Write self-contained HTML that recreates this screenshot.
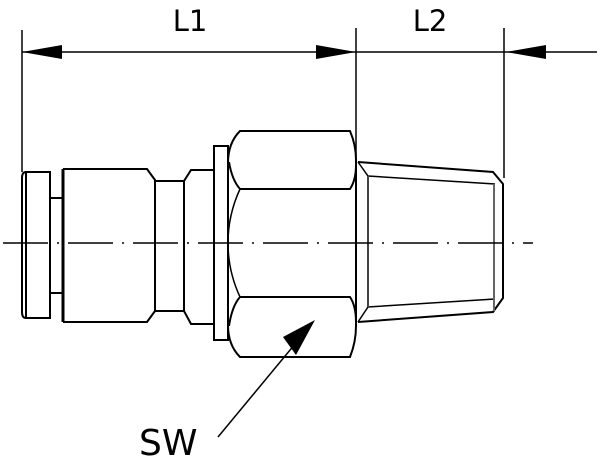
<!DOCTYPE html>
<html><head><style>html,body{margin:0;padding:0;background:#fff}svg{display:block}</style></head><body>
<svg width="600" height="459" viewBox="0 0 600 459" xmlns="http://www.w3.org/2000/svg">
<g fill="none" stroke="#000" stroke-width="2">
<line x1="22" y1="30" x2="22" y2="172" stroke-width="1.5"/>
<line x1="356" y1="28" x2="356" y2="162" stroke-width="1.5"/>
<line x1="504" y1="28" x2="504" y2="178" stroke-width="1.5"/>
<line x1="22" y1="52" x2="504" y2="52" stroke-width="1.5"/>
<line x1="504" y1="52" x2="597" y2="52" stroke-width="1.5"/>
<path d="M26,172 H50 V318 H26 Z"/>
<path d="M26,172 Q22,172 22,178 V312 Q22,318 26,318"/>
<path d="M50,198 H62 M50,293 H62"/>
<line x1="63" y1="169" x2="63" y2="322" stroke-width="3"/>
<path d="M63,169 H147 L155,180 V311 L147,322 H63"/>
<path d="M155,181 H184 V311 H155"/>
<path d="M184,181 L191,170 H214 V324 H191 L184,311"/>
<rect x="214" y="146" width="14" height="194"/>
<path d="M240,131 H350 Q356,145 356,160 V326 Q356,342 350,357 H240 Q228,345 228,325 V163 Q228,143 240,131 Z"/>
<path d="M229,162 Q232,180 240,189 H350 Q356,180 356,165"/>
<path d="M229,326 Q232,306 240,297 H350 Q356,306 356,322"/>
<path d="M240,189 Q228,215 228,243 Q228,271 240,297" stroke-width="1.5"/>
<path d="M358,162 L493,172 L503,184 V298 L493,312 L358,322"/>
<path d="M358,162 L368,176 L495,184 M368,176 V307 L495,299 M358,322 L368,307" stroke-width="1.5"/>
<line x1="494" y1="184" x2="494" y2="311" stroke="#666" stroke-width="2"/>
<line x1="368" y1="176" x2="368" y2="307" stroke="#444" stroke-width="2"/>
<line x1="3" y1="243" x2="533" y2="243" stroke-width="1.5" stroke-dasharray="45,9,2,9"/>
<line x1="218" y1="437" x2="300" y2="338" stroke-width="1.5"/>
</g>
<g fill="#000">
<polygon points="22,52 62,45 62,59"/>
<polygon points="356,52 316,45 316,59"/>
<polygon points="506,52 546,45 546,59"/>
<polygon points="315,320 283,337 296,355"/>
</g>
<g font-family="DejaVu Sans, Liberation Sans, sans-serif" font-size="29" fill="#000">
<text x="190" y="31" text-anchor="middle">L1</text>
<text x="430" y="31" text-anchor="middle">L2</text>
<text x="139" y="455" font-size="36">SW</text>
</g>
</svg>
</body></html>
